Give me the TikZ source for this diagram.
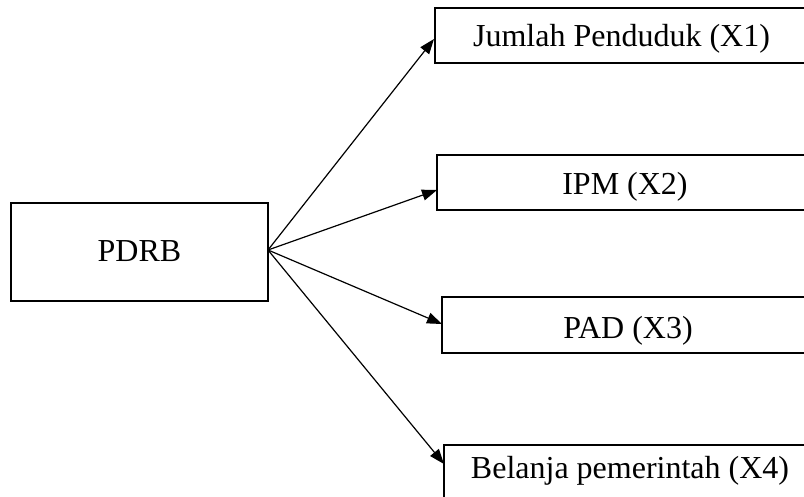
\documentclass[tikz,border=0pt]{standalone}
\usepackage{fontspec}
\setmainfont{Liberation Serif}
\usetikzlibrary{arrows.meta}
\begin{document}
\begin{tikzpicture}[x=1pt,y=-1pt,
  box/.style={draw=black,line width=2pt,inner sep=0pt,minimum width=#1},
  lbl/.style={anchor=base,inner sep=0pt,font=\fontsize{32}{38}\selectfont},
  arr/.style={line width=1.2pt,-{Triangle[length=15pt,width=11pt]}}]
\useasboundingbox (0,0) rectangle (804,497);
\clip (0,0) rectangle (804,497);
\node[box=257pt,minimum height=98pt] (p) at (139.5,252) {};
\node[box=373pt,minimum height=55pt] (b1) at (621.5,35.5) {};
\node[box=376pt,minimum height=55pt] (b2) at (625,182.5) {};
\node[box=372pt,minimum height=56pt] (b3) at (628,325) {};
\node[box=372pt,minimum height=55pt] (b4) at (630,472.5) {};
\node[lbl] (tp) at (139.5,262) {PDRB};
\node[lbl] (t1) at (621.5,47) {Jumlah Penduduk (X1)};
\node[lbl] (t2) at (625,195) {IPM (X2)};
\node[lbl] (t3) at (628,338) {PAD (X3)};
\node[lbl] (t4) at (630,478) {Belanja pemerintah (X4)};
\coordinate (s) at (268,250);
\coordinate (e1) at (434,39);
\coordinate (e2) at (437,190);
\coordinate (e3) at (442,324);
\coordinate (e4) at (444,464);
\draw[arr] (s) -- (e1);
\draw[arr] (s) -- (e2);
\draw[arr] (s) -- (e3);
\draw[arr] (s) -- (e4);
\end{tikzpicture}
\end{document}
